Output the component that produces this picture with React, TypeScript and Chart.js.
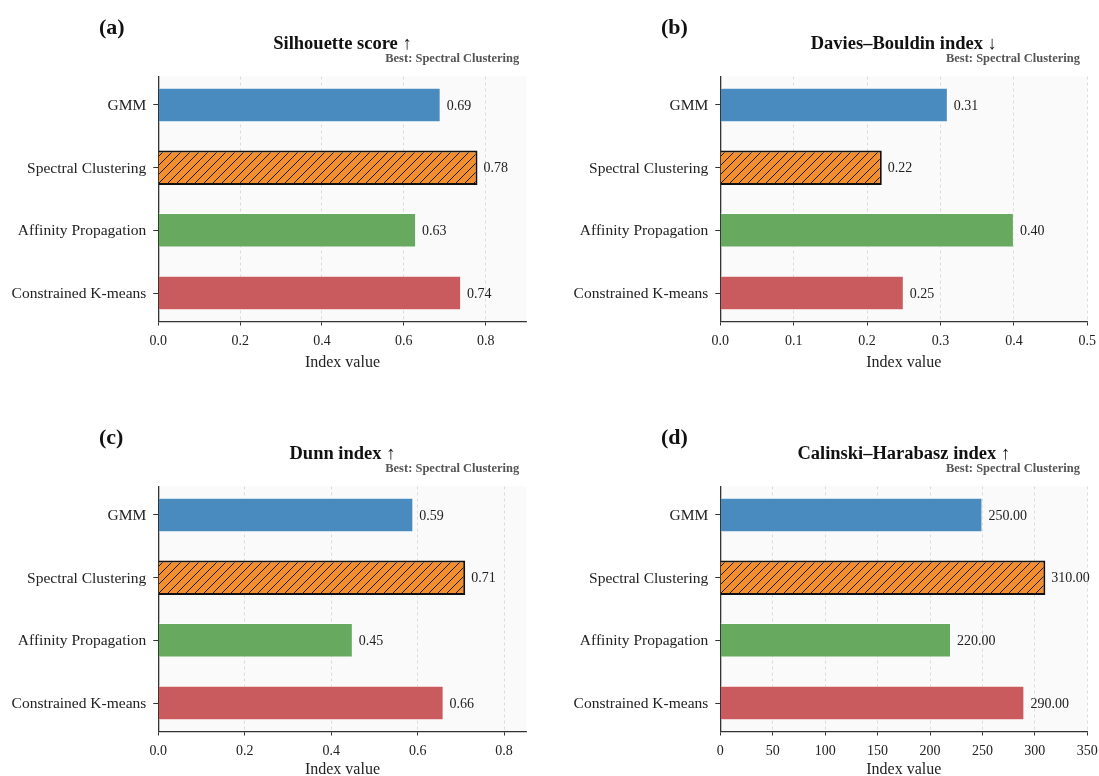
import React, { useEffect, useRef } from "react";
import { Chart, registerables } from "chart.js";

Chart.register(...registerables);

// ---------- data ----------
const methods = ["GMM", "Spectral Clustering", "Affinity Propagation", "Constrained K-means"];
const silhouette = [0.69, 0.78, 0.63, 0.74];
const daviesBouldin = [0.31, 0.22, 0.4, 0.25];
const dunn = [0.59, 0.71, 0.45, 0.66];
const calinski = [250, 310, 220, 290];

const panelLabels = ["(a)", "(b)", "(c)", "(d)"];
const panelTitles = [
  "Silhouette score \u2191",
  "Davies\u2013Bouldin index \u2193",
  "Dunn index \u2191",
  "Calinski\u2013Harabasz index \u2191",
];
const bestText = "Best: Spectral Clustering";
const bestIndex = 1;
const axisMax = [0.9, 0.5, 0.852, 350];
const tickStep = [0.2, 0.1, 0.2, 50];
const tickDecimals = [1, 1, 1, 0];
const xLabel = "Index value";

const barColors = ["#4a8bbf", "#f28e2b", "#66a95f", "#c95b5e"];

// ---------- layout ----------
const SERIF = "'Liberation Serif', 'Times New Roman', 'DejaVu Serif', serif";
const CANVAS_H = 388;
const PLOT_TOP = 76.5;
const PLOT_BOTTOM = 321.5;
const Y_AXIS_W = 158.3;
const BAR_H = 0.55;
const Y_MIN = -BAR_H / 2 - 0.05 * (3 + BAR_H);
const Y_MAX = 3 + BAR_H / 2 + 0.05 * (3 + BAR_H);
const panelPos = [
  { left: 0, top: 0, w: 562, right: 526.6, xh: 50.5 },
  { left: 562, top: 0, w: 537, right: 525.3, xh: 50.5 },
  { left: 0, top: 410, w: 562, right: 526.6, xh: 47.5 },
  { left: 562, top: 410, w: 537, right: 525.3, xh: 47.5 },
];

function makeHatch(color: string): CanvasPattern | string {
  const s = 9;
  const c = document.createElement("canvas");
  c.width = s;
  c.height = s;
  const g = c.getContext("2d");
  if (!g) return color;
  g.fillStyle = color;
  g.fillRect(0, 0, s, s);
  g.strokeStyle = "#1a1a1a";
  g.lineWidth = 1;
  g.beginPath();
  g.moveTo(0, s);
  g.lineTo(s, 0);
  g.moveTo(-1, 1);
  g.lineTo(1, -1);
  g.moveTo(s - 1, s + 1);
  g.lineTo(s + 1, s - 1);
  g.stroke();
  return g.createPattern(c, "repeat") || color;
}

function Panel({ idx }: { idx: number }) {
  const ref = useRef<HTMLCanvasElement>(null);
  const pos = panelPos[idx];
  useEffect(() => {
    const canvas = ref.current;
    if (!canvas) return;
    const ctx = canvas.getContext("2d");
    if (!ctx) return;
    const values = [silhouette, daviesBouldin, dunn, calinski][idx];
    const points = values.map((v, i) => ({ x: v, y: i }));
    const bg = barColors.map((c, i) => (i === bestIndex ? makeHatch(c) : c));
    const borderColors = barColors.map((_, i) => (i === bestIndex ? "#111111" : "rgba(255,255,255,0.55)"));
    const borderWidths = barColors.map((_, i) => (i === bestIndex ? 2 : 1));

    const deco = {
      id: "deco" + idx,
      beforeDraw(chart: any) {
        const a = chart.chartArea;
        const c = chart.ctx;
        c.save();
        c.fillStyle = "#fafafa";
        c.fillRect(a.left, a.top, a.right - a.left, a.bottom - a.top);
        c.restore();
      },
      afterDatasetsDraw(chart: any) {
        const c = chart.ctx;
        const meta = chart.getDatasetMeta(0);
        c.save();
        c.font = `14px ${SERIF}`;
        c.fillStyle = "#222";
        c.textAlign = "left";
        c.textBaseline = "middle";
        meta.data.forEach((bar: any, i: number) => {
          c.fillText(values[i].toFixed(2), bar.x + 6, bar.y + 1);
        });
        c.restore();
      },
      afterDraw(chart: any) {
        const a = chart.chartArea;
        const c = chart.ctx;
        c.save();
        c.fillStyle = "#111";
        c.textBaseline = "alphabetic";
        c.textAlign = "left";
        c.font = `bold 22px ${SERIF}`;
        c.fillText(panelLabels[idx], 99, 34);
        c.textAlign = "center";
        c.font = `bold 18.5px ${SERIF}`;
        c.fillText(panelTitles[idx], (a.left + a.right) / 2, 49);
        c.textAlign = "right";
        c.font = `bold 12.5px ${SERIF}`;
        c.fillStyle = "#555";
        c.fillText(bestText, a.left + 0.98 * (a.right - a.left), 62);
        c.restore();
      },
    };

    const chart = new Chart(ctx, {
      type: "bar",
      data: {
        labels: methods,
        datasets: [
          {
            data: points as any,
            backgroundColor: bg as any,
            borderColor: borderColors,
            borderWidth: borderWidths,
            barPercentage: BAR_H,
            categoryPercentage: 1,
          },
        ],
      },
      options: {
        indexAxis: "y",
        responsive: false,
        animation: false,
        devicePixelRatio: 1,
        layout: {
          padding: {
            left: 0,
            top: PLOT_TOP,
            right: pos.w - pos.right,
            bottom: CANVAS_H - PLOT_BOTTOM - pos.xh,
          },
        },
        plugins: {
          legend: { display: false },
          tooltip: { enabled: false },
          title: { display: false },
        },
        scales: {
          x: {
            type: "linear",
            min: 0,
            max: axisMax[idx],
            afterFit(scale: any) {
              scale.height = pos.xh;
              scale.paddingLeft = 0;
              scale.paddingRight = 0;
            },
            ticks: {
              stepSize: tickStep[idx],
              includeBounds: false,
              autoSkip: false,
              maxRotation: 0,
              color: "#222",
              font: { family: SERIF, size: 14 },
              padding: 7,
              callback: (v: any) => Number(v).toFixed(tickDecimals[idx]),
            },
            grid: {
              color: "#d4d4d4",
              lineWidth: 0.8,
              drawTicks: true,
              tickLength: 4,
              tickColor: "#333",
              tickWidth: 1,
              tickBorderDash: [],
            },
            border: { display: true, color: "#333", width: 1.3, dash: [3, 3] },
            title: {
              display: true,
              text: xLabel,
              color: "#222",
              font: { family: SERIF, size: 16 },
              padding: { top: 1, bottom: 0 },
            },
          },
          y: {
            type: "linear",
            reverse: true,
            min: Y_MIN,
            max: Y_MAX,
            offset: false,
            afterFit(scale: any) {
              scale.width = Y_AXIS_W;
              scale.paddingTop = 0;
              scale.paddingBottom = 0;
            },
            afterBuildTicks(scale: any) {
              scale.ticks = methods.map((_, i) => ({ value: i }));
            },
            ticks: {
              color: "#222",
              font: { family: SERIF, size: 15.5 },
              padding: 7,
              labelOffset: 1,
              autoSkip: false,
              callback: (v: any) => methods[Math.round(Number(v))] ?? "",
            },
            grid: {
              drawOnChartArea: false,
              offset: false,
              drawTicks: true,
              tickLength: 5,
              tickColor: "#333",
              tickWidth: 1,
            },
            border: { display: true, color: "#333", width: 1.3 },
          },
        },
      } as any,
      plugins: [deco],
    });
    return () => chart.destroy();
  }, [idx]);

  return (
    <canvas
      ref={ref}
      width={pos.w}
      height={CANVAS_H}
      style={{ position: "absolute", left: pos.left, top: pos.top, width: pos.w, height: CANVAS_H }}
    />
  );
}

export default function App() {
  return (
    <div
      style={{
        position: "absolute",
        left: 0,
        top: 0,
        width: 1099,
        height: 776,
        overflow: "hidden",
        background: "#ffffff",
      }}
    >
      {[0, 1, 2, 3].map((i) => (
        <Panel key={i} idx={i} />
      ))}
    </div>
  );
}
